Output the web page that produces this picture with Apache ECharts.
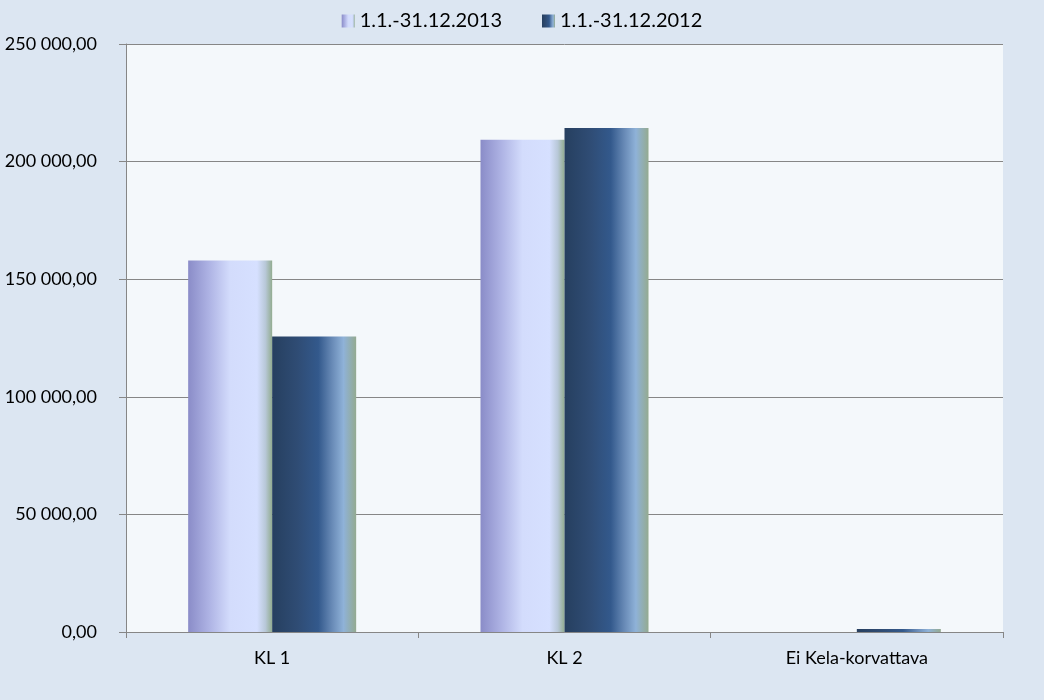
<!DOCTYPE html>
<html>
<head>
<meta charset="utf-8">
<script src="https://cdn.jsdelivr.net/npm/echarts@6/dist/echarts.min.js"></script>
<style>
  html, body { margin: 0; padding: 0; background: #dce6f2; }
  #chart { width: 1044px; height: 700px; }
</style>
</head>
<body>
<div id="chart"></div>
<script>
  // luokat ja arvot
  const categories = ['KL 1', 'KL 2', 'Ei Kela-korvattava'];
  const seriesNames = ['1.1.-31.12.2013', '1.1.-31.12.2012'];
  const values2013 = [157900, 209300, 0];
  const values2012 = [125600, 214300, 1300];

  const font = 'Lato, "Open Sans", sans-serif';

  function fmt(v) {
    const s = Math.round(v).toString().replace(/\B(?=(\d{3})+(?!\d))/g, ' ');
    return s + ',00';
  }

  const grad2013 = new echarts.graphic.LinearGradient(0, 0, 1, 0, [
    { offset: 0, color: '#8a8cc8' },
    { offset: 0.25, color: '#aeb3e4' },
    { offset: 0.5, color: '#d3dcfc' },
    { offset: 0.82, color: '#d6e0ff' },
    { offset: 0.92, color: '#b8c8d8' },
    { offset: 1, color: '#92ac90' }
  ]);
  const grad2012 = new echarts.graphic.LinearGradient(0, 0, 1, 0, [
    { offset: 0, color: '#263f5f' },
    { offset: 0.3, color: '#2f4c74' },
    { offset: 0.55, color: '#33598c' },
    { offset: 0.72, color: '#6a8cb8' },
    { offset: 0.85, color: '#8fb2d8' },
    { offset: 1, color: '#94aa90' }
  ]);

  const chart = echarts.init(document.getElementById('chart'));
  const option = {
    backgroundColor: '#dce6f2',
    animation: false,
    legend: {
      top: 6,
      left: 'center',
      itemWidth: 13,
      itemHeight: 13,
      itemGap: 40,
      icon: 'rect',
      textStyle: { fontFamily: font, fontSize: 20, color: '#000' },
      data: seriesNames
    },
    grid: {
      left: 126,
      right: 41,
      top: 44,
      bottom: 68,
      show: true,
      backgroundColor: '#f4f8fb',
      borderWidth: 0
    },
    xAxis: {
      type: 'category',
      data: categories,
      axisLine: { lineStyle: { color: '#868686', width: 1 } },
      axisTick: { show: true, length: 6, lineStyle: { color: '#868686' } },
      axisLabel: { fontFamily: font, fontSize: 18, color: '#000', margin: 17 }
    },
    yAxis: {
      type: 'value',
      min: 0,
      max: 250000,
      interval: 50000,
      axisLine: { show: true, lineStyle: { color: '#868686', width: 1 } },
      axisTick: { show: true, length: 7, lineStyle: { color: '#868686' } },
      splitLine: { lineStyle: { color: '#868686', width: 1 } },
      axisLabel: {
        fontFamily: font, fontSize: 18, color: '#000', margin: 29,
        formatter: fmt
      }
    },
    series: [
      {
        name: seriesNames[0],
        type: 'bar',
        data: values2013,
        barWidth: 84,
        barGap: 0,
        itemStyle: { color: grad2013 }
      },
      {
        name: seriesNames[1],
        type: 'bar',
        data: values2012,
        barWidth: 84,
        barGap: 0,
        itemStyle: { color: grad2012 }
      }
    ]
  };
  chart.setOption(option);
</script>
</body>
</html>
